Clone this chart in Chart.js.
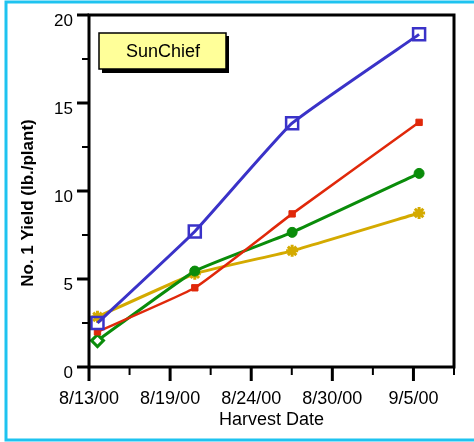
<!DOCTYPE html>
<html>
<head>
<meta charset="utf-8">
<script src="https://cdn.jsdelivr.net/npm/chart.js@4/dist/chart.umd.min.js"></script>
<style>
html,body{margin:0;padding:0;background:#fff;}
#wrap{width:474px;height:442px;position:relative;}
</style>
</head>
<body>
<div id="wrap"><canvas id="c" width="474" height="442"></canvas></div>
<script>
// ---- data (days after 8/13/00 on x, lb./plant on y) ----
const harvestDays = [0.6, 7.5, 14.4, 23.4];
const blueYield   = [2.5, 7.7, 13.85, 18.9];
const redYield    = [2.0, 4.5, 8.7, 13.9];
const greenYield  = [1.5, 5.45, 7.65, 11.0];
const yellowYield = [2.85, 5.3, 6.6, 8.75];
const xTickLabels = ['8/13/00', '8/19/00', '8/24/00', '8/30/00', '9/5/00'];
const yTickLabels = ['0', '5', '10', '15', '20'];
const legendText = 'SunChief';
const yTitle = 'No. 1 Yield (lb./plant)';
const xTitle = 'Harvest Date';

const pts = arr => harvestDays.map((d, i) => ({x: d, y: arr[i]}));
const FONT = '"Liberation Sans", Arial, Helvetica, sans-serif';

const decor = {
  id: 'decor',
  beforeDraw(chart) {
    const ctx = chart.ctx;
    ctx.save();
    ctx.fillStyle = '#fff';
    ctx.fillRect(0, 0, chart.width, chart.height);
    ctx.strokeStyle = '#1ec3f0';
    ctx.lineWidth = 3;
    ctx.beginPath();
    ctx.moveTo(480, 2);
    ctx.lineTo(6, 2);
    ctx.lineTo(6, 440);
    ctx.lineTo(480, 440);
    ctx.stroke();
    ctx.restore();
  },
  afterDraw(chart) {
    const ctx = chart.ctx;
    const a = chart.chartArea;
    const xs = chart.scales.x, ys = chart.scales.y;
    ctx.save();
    ctx.strokeStyle = '#000';
    ctx.lineWidth = 3;
    ctx.strokeRect(a.left, a.top, a.right - a.left, a.bottom - a.top);
    ys.ticks.forEach((t) => {
      const y = ys.getPixelForValue(t.value);
      const major = (t.value % 5 === 0);
      ctx.lineWidth = major ? 3 : 2;
      ctx.beginPath();
      ctx.moveTo(a.left, y);
      ctx.lineTo(a.left - (major ? 12 : 7), y);
      ctx.stroke();
    });
    xs.ticks.forEach((t, i) => {
      const x = xs.getPixelForValue(t.value);
      const major = (i % 2 === 0);
      ctx.lineWidth = major ? 3 : 2;
      ctx.beginPath();
      ctx.moveTo(x, a.bottom);
      ctx.lineTo(x, a.bottom + (major ? 14 : 8));
      ctx.stroke();
    });
    // legend box
    ctx.fillStyle = '#000';
    ctx.fillRect(102, 36, 127, 37);
    ctx.fillStyle = '#ffff99';
    ctx.fillRect(99, 33, 127, 36);
    ctx.lineWidth = 1.5;
    ctx.strokeStyle = '#000';
    ctx.strokeRect(99, 33, 127, 36);
    ctx.fillStyle = '#000';
    ctx.font = '18px ' + FONT;
    ctx.textAlign = 'center';
    ctx.textBaseline = 'middle';
    ctx.fillText(legendText, 163, 52);
    // y-axis title
    ctx.translate(28, 203);
    ctx.rotate(-Math.PI / 2);
    ctx.font = 'bold 17px ' + FONT;
    ctx.fillText(yTitle, 0, 0);
    ctx.restore();
  }
};

new Chart(document.getElementById('c'), {
  type: 'line',
  data: {
    datasets: [
      {label: 'blue', data: pts(blueYield), borderColor: '#3a32c8', borderWidth: 3,
       pointStyle: 'rect', pointRadius: 8.5, pointBorderWidth: 2.5,
       pointBorderColor: '#3a32c8', pointBackgroundColor: 'rgba(0,0,0,0)'},
      {label: 'red', data: pts(redYield), borderColor: '#e0280a', borderWidth: 2.5,
       pointStyle: 'rect', pointRadius: 4.5, pointBorderWidth: 1,
       pointBorderColor: '#e0280a', pointBackgroundColor: '#e0280a'},
      {label: 'green', data: pts(greenYield), borderColor: '#0a8c0a', borderWidth: 3,
       pointStyle: ['rectRot', 'circle', 'circle', 'circle'], pointRadius: [6, 5, 5, 5],
       pointBorderWidth: [3, 1, 1, 1],
       pointBorderColor: '#0a8c0a', pointBackgroundColor: ['#fff', '#0a8c0a', '#0a8c0a', '#0a8c0a']},
      {label: 'yellow', data: pts(yellowYield), borderColor: '#d4aa00', borderWidth: 3,
       pointStyle: 'star', pointRadius: 6, pointBorderWidth: 3,
       pointBorderColor: '#d4aa00', pointBackgroundColor: '#d4aa00'}
    ]
  },
  options: {
    responsive: false,
    animation: false,
    events: [],
    layout: {padding: {left: 0, right: 20, top: 15, bottom: 0}},
    elements: {line: {tension: 0.12}},
    plugins: {legend: {display: false}, tooltip: {enabled: false}},
    scales: {
      x: {
        type: 'linear', min: 0, max: 25.875,
        grid: {display: false, drawTicks: false},
        border: {display: false},
        ticks: {
          stepSize: 2.875, autoSkip: false, maxRotation: 0, padding: 21,
          color: '#000', font: {family: FONT, size: 18},
          callback: (v, i) => (i % 2 === 0 ? xTickLabels[i / 2] : '')
        },
        title: {display: true, text: xTitle, color: '#000',
                font: {family: FONT, size: 18}, padding: {top: 0, bottom: 11}},
        afterFit: s => { s.height = 75; s.paddingLeft = 0; s.paddingRight = 0; }
      },
      y: {
        min: 0, max: 20,
        grid: {display: false, drawTicks: false},
        border: {display: false},
        ticks: {
          stepSize: 2.5, autoSkip: false, padding: 16, labelOffset: 6,
          color: '#000', font: {family: FONT, size: 17},
          callback: v => (v % 5 === 0 ? yTickLabels[v / 5] : '')
        },
        title: {display: false},
        afterFit: s => { s.width = 89; s.paddingTop = 0; s.paddingBottom = 0; }
      }
    }
  },
  plugins: [decor]
});
</script>
</body>
</html>
